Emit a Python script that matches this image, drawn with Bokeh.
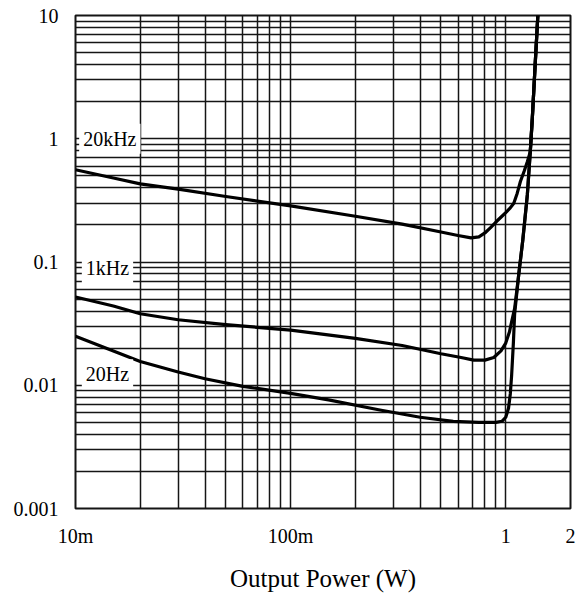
from bokeh.plotting import figure
from bokeh.models import Range1d, FixedTicker, Label
from bokeh.embed import file_html
from bokeh.resources import INLINE

# ---- data ----
power_20k = [0.01, 0.015, 0.02, 0.03, 0.05, 0.1, 0.2, 0.33, 0.5, 0.6, 0.69, 0.75, 0.8, 0.85, 0.91,
             0.96, 1.0, 1.05, 1.09, 1.13, 1.17, 1.22, 1.26, 1.30, 1.33, 1.37, 1.41]
thd_20k = [0.56, 0.48, 0.43, 0.39, 0.34, 0.285, 0.235, 0.203, 0.175, 0.164, 0.157, 0.16, 0.172, 0.19, 0.215,
           0.235, 0.252, 0.275, 0.30, 0.36, 0.45, 0.55, 0.65, 0.78, 1.5, 4.0, 10.0]

power_1k = [0.01, 0.015, 0.02, 0.03, 0.05, 0.1, 0.2, 0.33, 0.5, 0.62, 0.71, 0.8, 0.88, 0.95,
            1.0, 1.04, 1.07, 1.1, 1.15, 1.2, 1.26, 1.30, 1.33, 1.37, 1.41]
thd_1k = [0.052, 0.044, 0.038, 0.034, 0.031, 0.028, 0.024, 0.021, 0.018, 0.0168, 0.016, 0.016, 0.0168, 0.019,
          0.022, 0.027, 0.034, 0.042, 0.08, 0.15, 0.35, 0.78, 1.5, 4.0, 10.0]

power_20 = [0.01, 0.015, 0.02, 0.03, 0.04, 0.06, 0.1, 0.15, 0.26, 0.4, 0.57, 0.75, 0.9,
            0.96, 1.0, 1.03, 1.05, 1.065, 1.085, 1.1, 1.15, 1.2, 1.26, 1.30, 1.33, 1.37, 1.41]
thd_20 = [0.025, 0.019, 0.0156, 0.0128, 0.0113, 0.0098, 0.0086, 0.0076, 0.0063, 0.0055, 0.0051,
          0.005, 0.005, 0.0051, 0.0055, 0.0065, 0.0085, 0.012, 0.022, 0.038, 0.08, 0.15, 0.35, 0.78,
          1.5, 4.0, 10.0]

x_major = [0.01, 0.1, 1, 2]
x_labels = ["10m", "100m", "1", "2"]
y_major = [0.001, 0.01, 0.1, 1, 10]
y_labels = ["0.001", "0.01", "0.1", "1", "10"]
curve_names = ["20kHz", "1kHz", "20Hz"]

x_minor = [k * 10.0 ** n for n in (-2, -1) for k in range(2, 10)]
y_minor = [k * 10.0 ** n for n in (-3, -2, -1, 0) for k in range(2, 10)]

SERIF = "Liberation Serif"
INK = "#151515"

p = figure(width=583, height=594, x_axis_type="log", y_axis_type="log",
           x_range=Range1d(0.01, 2), y_range=Range1d(0.001, 10),
           output_backend="svg", toolbar_location=None,
           min_border_left=75, min_border_right=13, min_border_top=15, min_border_bottom=83)

p.background_fill_color = "white"
p.border_fill_color = "white"
p.outline_line_color = INK
p.outline_line_width = 2

p.xaxis.ticker = FixedTicker(ticks=x_major, minor_ticks=x_minor)
p.yaxis.ticker = FixedTicker(ticks=y_major, minor_ticks=y_minor)
p.xaxis.major_label_overrides = {v: s for v, s in zip(x_major, x_labels)}
p.yaxis.major_label_overrides = {v: s for v, s in zip(y_major, y_labels)}

for ax in (p.xaxis, p.yaxis):
    ax.axis_line_color = None
    ax.major_tick_line_color = None
    ax.minor_tick_line_color = None
    ax.major_label_text_font = SERIF
    ax.major_label_text_font_size = "20px"
    ax.major_label_text_color = "black"

p.xaxis.major_label_standoff = 10
p.yaxis.major_label_standoff = 11
p.xaxis.axis_label = "Output Power (W)"
p.xaxis.axis_label_text_font = SERIF
p.xaxis.axis_label_text_font_size = "25px"
p.xaxis.axis_label_text_font_style = "normal"
p.xaxis.axis_label_text_color = "black"
p.xaxis.axis_label_standoff = 15

for g in (p.xgrid, p.ygrid):
    g.grid_line_color = INK
    g.grid_line_width = 1.5
    g.grid_line_alpha = 1.0
    g.minor_grid_line_color = INK
    g.minor_grid_line_width = 1.5
    g.minor_grid_line_alpha = 1.0

for xs, ys in ((power_20k, thd_20k), (power_1k, thd_1k), (power_20, thd_20)):
    p.line(xs, ys, line_color="black", line_width=3.2, line_join="round")

label_pos = [(0.0104, 1.0), (0.0107, 0.0895), (0.0107, 0.0123)]
for name, (lx, ly) in zip(curve_names, label_pos):
    p.add_layout(Label(x=lx, y=ly, text=name, text_font=SERIF, text_font_size="20px",
                       text_color="black", text_baseline="middle", text_align="left",
                       background_fill_color="white", padding=4))

open("out.html", "w").write(file_html(p, INLINE))
